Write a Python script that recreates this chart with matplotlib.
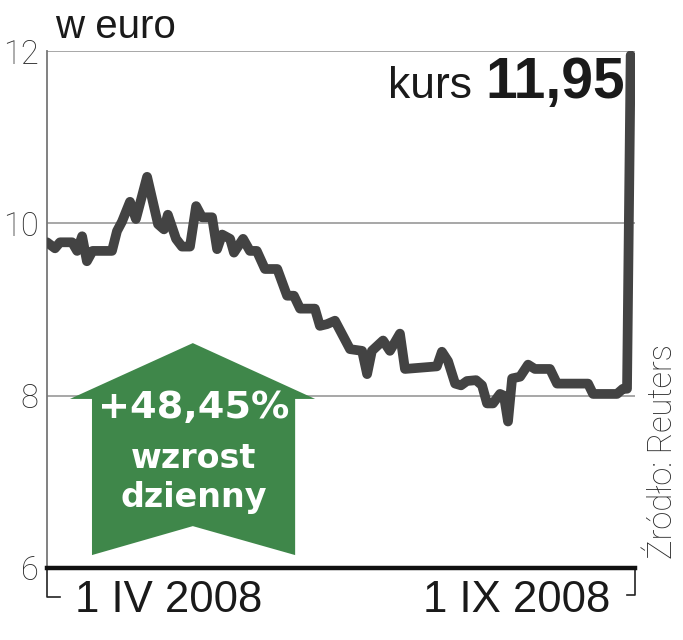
import matplotlib
matplotlib.use("Agg")
import matplotlib.pyplot as plt
from matplotlib.patches import Polygon
from matplotlib.lines import Line2D

# ===== dane (dni od początku wykresu, kurs w euro) =====
dzien = [0, 3.5, 5.7, 11, 13.2, 15.4, 17.5, 20, 28.5, 30.7, 32.9, 36.4, 39,
         43.9, 48.7, 51.3, 53, 56.6, 59.2, 62.7, 65.4, 68, 72.4, 74.6, 76.8,
         80.3, 82, 86, 89, 92, 95.6, 101, 105.3, 108.3, 111, 117.5, 119.7,
         122.8, 126.3, 132.9, 138.2, 140.4, 142.5, 147.4, 150.4, 154.8, 157,
         171, 173.2, 175.9, 179, 181.6, 184.2, 188.2, 190.8, 193, 195.6,
         198.7, 200.4, 202.2, 204, 207.5, 211, 214, 220.6, 223.7, 237.3,
         239.5, 250, 252.6, 254.4, 256]
kurs = [9.78, 9.71, 9.78, 9.78, 9.68, 9.85, 9.56, 9.68, 9.68, 9.91, 10.02,
        10.25, 10.05, 10.54, 9.99, 9.93, 10.10, 9.82, 9.73, 9.73, 10.20,
        10.07, 10.07, 9.70, 9.87, 9.82, 9.66, 9.82, 9.68, 9.68, 9.47, 9.47,
        9.16, 9.16, 9.01, 9.01, 8.81, 8.83, 8.87, 8.54, 8.52, 8.25, 8.52,
        8.64, 8.52, 8.72, 8.31, 8.34, 8.51, 8.40, 8.14, 8.12, 8.17, 8.18,
        8.12, 7.91, 7.91, 8.02, 8.00, 7.70, 8.20, 8.22, 8.36, 8.31, 8.31,
        8.14, 8.14, 8.02, 8.02, 8.08, 8.08, 11.95]

y_ticks = [6, 8, 10, 12]
x_labels = ["1 IV 2008", "1 IX 2008"]
ostatni_kurs = "11,95"
zmiana = "+48,45%"

LINE_COLOR = "#434343"
GREEN = "#3f874a"
GRID = "#a0a0a0"
TXT = "#1a1a1a"

# =========================================================
fig = plt.figure(figsize=(6.83, 6.40), dpi=100)
ax = fig.add_axes([47 / 683, 1 - 568 / 640, 588 / 683, 517 / 640])

ax.set_xlim(0, 257.9)
ax.set_ylim(6, 12)

for v in y_ticks[1:]:
    ax.axhline(v, color=GRID, lw=1.3, zorder=1)

ax.plot(dzien, kurs, color=LINE_COLOR, lw=7, solid_joinstyle="round",
        solid_capstyle="round", zorder=4)

for s in ["top", "right"]:
    ax.spines[s].set_visible(False)
ax.spines["left"].set_color("#777777")
ax.spines["left"].set_linewidth(1.3)
ax.spines["bottom"].set_color("#111111")
ax.spines["bottom"].set_linewidth(3.2)
ax.spines["bottom"].set_zorder(5)

ax.set_xticks([])
ax.set_yticks(y_ticks)
ax.set_yticklabels([str(t) for t in y_ticks], fontfamily="Roboto",
                   fontweight="light", fontsize=23.5, color="#2a2a2a")
ax.tick_params(axis="y", length=0, pad=6)

# wsporniki pod osią
br = dict(color="#222222", lw=1.2, transform=ax.transAxes, clip_on=False)
ax.add_line(Line2D([0, 0, 0.022], [0, -0.056, -0.056], **br))
ax.add_line(Line2D([1, 1, 0.986], [0, -0.052, -0.052], **br))

# strzałka
arrow = Polygon([(0.248, 0.435), (0.456, 0.327), (0.422, 0.327),
                 (0.422, 0.025), (0.248, 0.081), (0.0765, 0.025),
                 (0.0765, 0.327), (0.039, 0.327)],
                closed=True, facecolor=GREEN, edgecolor="none",
                transform=ax.transAxes, zorder=3)
ax.add_patch(arrow)

ax.text(0.25, 0.29, zmiana, transform=ax.transAxes, ha="center",
        va="baseline", fontsize=27.5, fontweight="bold", color="white",
        fontfamily="DejaVu Sans", zorder=6)
ax.text(0.25, 0.193, "wzrost", transform=ax.transAxes, ha="center",
        va="baseline", fontsize=24, fontweight="bold", color="white",
        fontfamily="DejaVu Sans", zorder=6)
ax.text(0.25, 0.118, "dzienny", transform=ax.transAxes, ha="center",
        va="baseline", fontsize=24, fontweight="bold", color="white",
        fontfamily="DejaVu Sans", zorder=6)

# teksty
fig.text(55 / 683, 1 - 38 / 640, "w euro", fontsize=29, color=TXT,
         fontfamily="Liberation Sans", va="baseline", ha="left")
fig.text(625 / 683, 1 - 98 / 640, ostatni_kurs, fontsize=41,
         fontweight="bold", color=TXT, fontfamily="Liberation Sans",
         va="baseline", ha="right")
fig.text(472 / 683, 1 - 98 / 640, "kurs", fontsize=32, color=TXT,
         fontfamily="Liberation Sans", va="baseline", ha="right")

fig.text(75 / 683, 1 - 612 / 640, x_labels[0], fontsize=31.5, color=TXT,
         fontfamily="Liberation Sans", va="baseline", ha="left")
fig.text(610 / 683, 1 - 612 / 640, x_labels[1], fontsize=31.5, color=TXT,
         fontfamily="Liberation Sans", va="baseline", ha="right")

fig.text(663 / 683, 1 - 452 / 640, "Źródło: Reuters", rotation=90,
         fontsize=23.5, color="#2a2a2a", fontfamily="Roboto",
         fontweight="light", ha="center", va="center")

fig.savefig("out.png", dpi=100, facecolor="white")
